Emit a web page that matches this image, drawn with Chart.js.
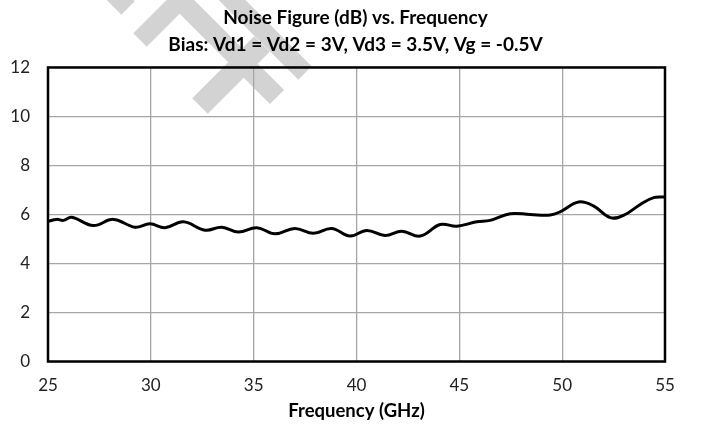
<!DOCTYPE html>
<html>
<head>
<meta charset="utf-8">
<script src="https://cdn.jsdelivr.net/npm/chart.js@4.4.1/dist/chart.umd.min.js"></script>
<style>
  html, body { margin: 0; padding: 0; background: #fff; }
  #wrap { width: 711px; height: 426px; }
</style>
</head>
<body>
<div id="wrap"><canvas id="chart"></canvas></div>
<script>
// Frequency (GHz) and noise figure (dB)
const freqGHz = [25.0, 25.42, 25.75, 26.15, 27.2, 28.18, 29.23, 29.96, 30.69, 31.58,
                 32.64, 33.45, 34.26, 35.15, 36.04, 37.0, 37.9, 38.79, 39.69, 40.5,
                 41.39, 42.2, 43.1, 44.07, 44.88, 45.85, 46.5, 47.47, 48.45, 49.42,
                 49.9, 50.8, 51.52, 52.34, 52.98, 53.8, 54.45, 55.0];
const noiseFigure = [5.72, 5.80, 5.76, 5.89, 5.55, 5.80, 5.48, 5.62, 5.46, 5.70,
                     5.36, 5.48, 5.28, 5.46, 5.21, 5.43, 5.23, 5.43, 5.12, 5.35,
                     5.14, 5.32, 5.12, 5.59, 5.52, 5.70, 5.76, 6.03, 6.00, 5.98,
                     6.11, 6.51, 6.35, 5.87, 5.96, 6.41, 6.69, 6.71];
const titleLines = ['Noise Figure (dB) vs. Frequency', 'Bias: Vd1 = Vd2 = 3V, Vd3 = 3.5V, Vg = -0.5V'];

const FONT = 'Lato, "Open Sans", sans-serif';

// grey logo watermark behind the chart
const watermark = {
    id: 'watermark',
    beforeDraw(chart) {
        const c = chart.ctx;
        const bars = [
            [[105, -15], [128, 8], 19],
            [[140, 40], [205, -25], 19],
            [[180, 0], [277, 97], 20],
            [[215, -17], [305, 73], 19],
            [[200, 106], [262, 44], 22]
        ];
        c.save();
        c.strokeStyle = '#d3d3d3';
        c.lineCap = 'butt';
        bars.forEach(b => {
            c.lineWidth = b[2];
            c.beginPath();
            c.moveTo(b[0][0], b[0][1]);
            c.lineTo(b[1][0], b[1][1]);
            c.stroke();
        });
        c.restore();
    }
};

// black frame round the plot area
const frame = {
    id: 'frame',
    afterDatasetsDraw(chart) {
        const a = chart.chartArea;
        const c = chart.ctx;
        c.save();
        c.strokeStyle = '#000';
        c.lineWidth = 2.5;
        c.strokeRect(a.left, a.top, a.right - a.left, a.bottom - a.top);
        c.restore();
    }
};

const ctx = document.getElementById('chart').getContext('2d');

new Chart(ctx, {
    type: 'line',
    data: {
        datasets: [{
            data: freqGHz.map((f, i) => ({ x: f, y: noiseFigure[i] })),
            borderColor: '#000',
            borderWidth: 3,
            pointRadius: 0,
            fill: false,
            tension: 0.4
        }]
    },
    options: {
        responsive: true,
        maintainAspectRatio: false,
        animation: false,
        layout: { padding: 0 },
        plugins: {
            legend: { display: false },
            tooltip: { enabled: false },
            title: {
                display: true,
                text: titleLines,
                color: '#000',
                font: { family: FONT, size: 19, weight: 'bold', lineHeight: 1.42 },
                padding: { top: 4, bottom: 9.5 }
            }
        },
        scales: {
            x: {
                type: 'linear',
                min: 25,
                max: 55,
                ticks: { stepSize: 5, color: '#222', font: { family: FONT, size: 17 }, padding: 14 },
                grid: { color: '#a6a6a6', lineWidth: 1.3, drawTicks: false },
                border: { display: false },
                title: {
                    display: true,
                    text: 'Frequency (GHz)',
                    color: '#000',
                    font: { family: FONT, size: 18.5, weight: 'bold' },
                    padding: { top: 3 }
                },
                afterFit(scale) { scale.height = 64.5; }
            },
            y: {
                min: 0,
                max: 12,
                ticks: { stepSize: 2, color: '#222', font: { family: FONT, size: 17 }, padding: 18 },
                grid: { color: '#a6a6a6', lineWidth: 1.3, drawTicks: false },
                border: { display: false },
                afterFit(scale) { scale.width = 48; }
            },
            // empty right margin so the title stays centred on the page
            yRight: {
                position: 'right',
                display: true,
                ticks: { display: false },
                grid: { display: false, drawTicks: false },
                border: { display: false },
                afterFit(scale) { scale.width = 46; }
            }
        }
    },
    plugins: [watermark, frame]
});
</script>
</body>
</html>
